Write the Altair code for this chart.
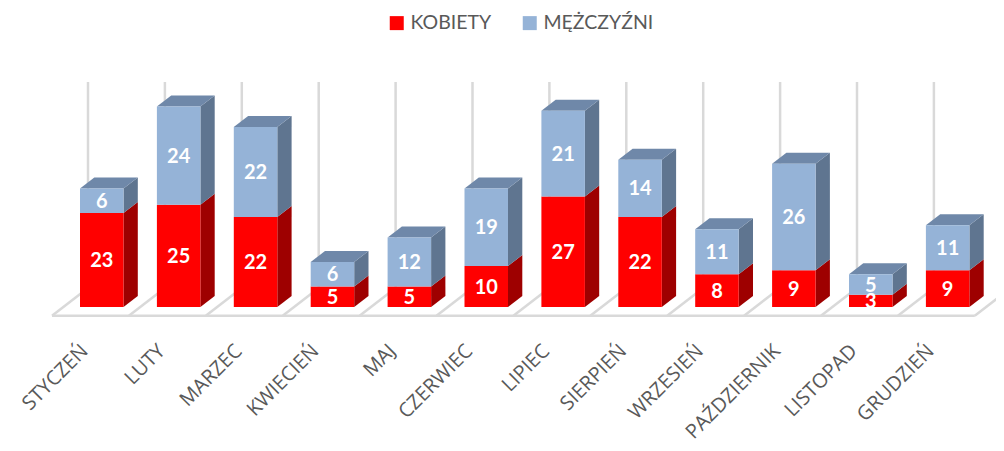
import altair as alt
import pandas as pd

months = ["STYCZEŃ", "LUTY", "MARZEC", "KWIECIEŃ", "MAJ", "CZERWIEC", "LIPIEC",
          "SIERPIEŃ", "WRZESIEŃ", "PAŹDZIERNIK", "LISTOPAD", "GRUDZIEŃ"]
kobiety = [23, 25, 22, 5, 5, 10, 27, 22, 8, 9, 3, 9]
mezczyzni = [6, 24, 22, 6, 12, 19, 21, 14, 11, 26, 5, 11]
series = ["KOBIETY", "MĘŻCZYŹNI"]

# Pseudo-3D geometry, expressed in data units (one category step, one person)
STEP_PX, UNIT_PX = 76.9, 4.09
BAR_W = 43.5 / STEP_PX
DEPTH_X = 14.3 / STEP_PX
DEPTH_Y = 11.0 / UNIT_PX
W, H = 988, 435
X_DOMAIN = [(8 - 80) / STEP_PX, (8 + W - 80) / STEP_PX]
Y_DOMAIN = [(307 - (8 + H)) / UNIT_PX, (307 - 8) / UNIT_PX]
GRID_U = 8 / STEP_PX
GRID_TOP = (307 - 82) / UNIT_PX
FLOOR_BACK = (307 - 288) / UNIT_PX
FLOOR_FRONT = (307 - 315.7) / UNIT_PX
FLOOR_FRONT_U = (52 - 80) / STEP_PX
LABEL_U = 5 / STEP_PX
LABEL_V = (307 - 348) / UNIT_PX

front, side, top, vals = [], [], [], []
for i, (k, m) in enumerate(zip(kobiety, mezczyzni)):
    x0, x1 = i, i + BAR_W
    for s, a, b in ((series[0], 0, k), (series[1], k, k + m)):
        front.append(dict(s=s, x=x0, x2=x1, y=a, y2=b))
        vals.append(dict(s=s, x=(x0 + x1) / 2, y=(a + b) / 2, v=b - a))
        side.append(dict(bar=i, s=s, x=x1, y=a, y2=b))
        side.append(dict(bar=i, s=s, x=x1 + DEPTH_X, y=a + DEPTH_Y, y2=b + DEPTH_Y))
    t = k + m
    top += [
        dict(bar=i, x=x0, y=t, y2=t),
        dict(bar=i, x=x0 + DEPTH_X, y=t, y2=t + DEPTH_Y),
        dict(bar=i, x=x1, y=t, y2=t + DEPTH_Y),
        dict(bar=i, x=x1 + DEPTH_X, y=t + DEPTH_Y, y2=t + DEPTH_Y),
    ]

grid = pd.DataFrame([dict(x=i + GRID_U, y=FLOOR_BACK, y2=GRID_TOP) for i in range(12)])
diag = pd.DataFrame([r for i in range(13) for r in (
    dict(d=i, x=i + FLOOR_FRONT_U, y=FLOOR_FRONT),
    dict(d=i, x=i + GRID_U, y=FLOOR_BACK))])
floor = pd.DataFrame([dict(x=FLOOR_FRONT_U, x2=12 + FLOOR_FRONT_U, y=FLOOR_FRONT)])
labels = pd.DataFrame([dict(m=m, x=i + LABEL_U, y=LABEL_V) for i, m in enumerate(months)])
front = pd.DataFrame(front); side = pd.DataFrame(side); top = pd.DataFrame(top); vals = pd.DataFrame(vals)

X = alt.X("x:Q", scale=alt.Scale(domain=X_DOMAIN, nice=False, zero=False), axis=None)
Y = alt.Y("y:Q", scale=alt.Scale(domain=Y_DOMAIN, nice=False, zero=False), axis=None)
GRID = "#D9D9D9"

layers = [
    alt.Chart(grid).mark_rule(color=GRID, strokeWidth=2.5).encode(x=X, y=Y, y2="y2:Q"),
    alt.Chart(diag).mark_line(color=GRID, strokeWidth=2.5, clip=True).encode(x=X, y=Y, detail="d:N"),
    alt.Chart(floor).mark_rule(color=GRID, strokeWidth=2.5).encode(x=X, x2="x2:Q", y=Y),
    alt.Chart(side[side.s == series[0]]).mark_area(color="#9E0000").encode(x=X, y=Y, y2="y2:Q", detail="bar:N"),
    alt.Chart(side[side.s == series[1]]).mark_area(color="#5F7590").encode(x=X, y=Y, y2="y2:Q", detail="bar:N"),
    alt.Chart(top).mark_area(color="#6F88A9").encode(x=X, y=Y, y2="y2:Q", detail="bar:N"),
    alt.Chart(front).mark_rect().encode(
        x=X, x2="x2:Q", y=Y, y2="y2:Q",
        color=alt.Color("s:N",
                        scale=alt.Scale(domain=series, range=["#FF0000", "#95B3D7"]),
                        legend=alt.Legend(title=None, orient="none", legendX=379, legendY=5,
                                          direction="horizontal", columns=2, columnPadding=28,
                                          symbolType="square", symbolSize=196, symbolStrokeWidth=0,
                                          labelFont="Lato", labelFontSize=19.5, labelColor="#595959",
                                          labelOffset=4, labelLimit=200, padding=0))),
    alt.Chart(vals).mark_text(font="Lato", fontSize=20, fontWeight="bold", color="white", dy=1).encode(
        x=X, y=Y, text="v:Q"),
    alt.Chart(labels).mark_text(font="Open Sans", fontSize=20, color="#595959", angle=315,
                                align="right", baseline="middle").encode(x=X, y=Y, text="m:N"),
]

chart = alt.layer(*layers).properties(
    width=W, height=H, padding=0, autosize=alt.AutoSizeParams(type="none"), background="white"
).configure_view(stroke=None)

chart.save("out.html", embed_options={"renderer": "svg", "actions": False})
